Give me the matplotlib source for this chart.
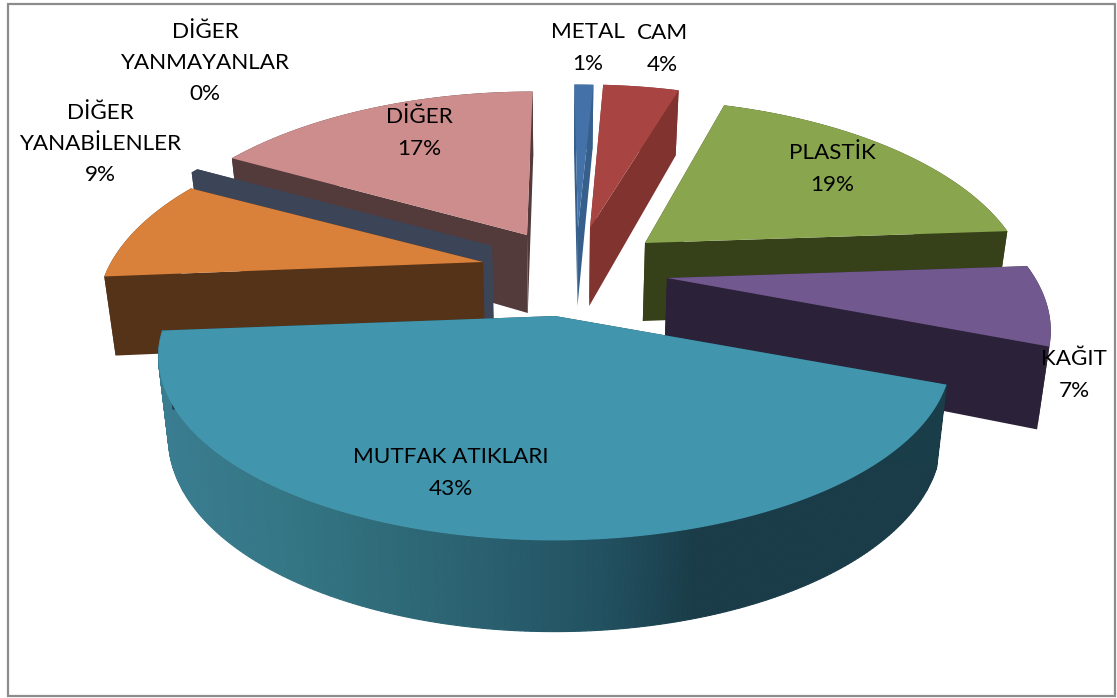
import numpy as np
import matplotlib
matplotlib.use("Agg")
import matplotlib.pyplot as plt
from matplotlib.patches import Rectangle

# data
labels = ["METAL", "CAM", "PLASTİK", "KAĞIT", "MUTFAK ATIKLARI",
          "DİĞER\nYANABİLENLER", "DİĞER\nYANMAYANLAR", "DİĞER"]
values = [1, 4, 19, 7, 43, 9, 0.4, 17]

# styles
top_colors = ["#4472a8", "#a84442", "#89a54e", "#71588f", "#4196ae", "#d9803a", "#3c4558", "#cd8d8c"]
side_colors = ["#365f8c", "#813330", "#374119", "#2b2138", "#1a3e49", "#553318", "#3c4558", "#533a3b"]

# where each exploded slice has its tip, in pixels
tips_x = [578, 590, 645, 667, 555, 483, 492, 527]
tips_y = [228, 228, 243, 278, 316, 262, 246, 235]
# slices nearer the viewer come out a bit wider
widen = [1, 1, 1, 0.995, 1.045, 1.005, 1.03, 1.02]

label_x = [588, 662, 832, 1074, 451, 100, 205, 419]
label_y = [48, 49, 169, 375, 473, 144, 63, 133]

start = 0.0
rx, ry, persp = 370, 175, 0.22
depth = 78
vanish_x = 558


def project(i, th):
    # th in degrees, clockwise from the back of the pie
    u = np.sin(np.radians(th))
    v = np.cos(np.radians(th))
    f = 1 / (1 + persp * v)
    x = vanish_x + (tips_x[i] + rx * widen[i] * u - vanish_x) * f
    return x, tips_y[i] - ry * v * f, depth * (1 - 0.17 * v)


def lower(x):
    # walls lean in towards the middle going down
    return vanish_x + (x - vanish_x) * 0.975


def ramp(x):
    # shading of the front wall of the big slice
    xs = [160, 290, 450, 600, 700, 950]
    r = np.interp(x, xs, [58, 52, 44, 34, 26, 26])
    g = np.interp(x, xs, [125, 118, 100, 82, 60, 60])
    b = np.interp(x, xs, [145, 132, 115, 98, 72, 72])
    return (r / 255, g / 255, b / 255)


fig = plt.figure(figsize=(11.17, 6.98), dpi=100)
ax = fig.add_axes([0, 0, 1, 1])
ax.set_xlim(0, 1117)
ax.set_ylim(698, 0)
ax.axis("off")

ax.add_patch(Rectangle((8, 4), 1107, 692, fc="white", ec="#8c8c8c", lw=1.6))

angles = np.cumsum([0] + values) / sum(values) * 360 + start
draw_order = [0, 1, 7, 6, 5, 2, 3, 4]

for i in draw_order:
    th = np.linspace(angles[i], angles[i + 1], 240)
    x, y, h = project(i, th)
    tx, ty = tips_x[i], tips_y[i]
    # outer wall
    if i == 4:
        for k in range(len(th) - 1):
            ax.fill([x[k], x[k + 1], lower(x[k + 1]), lower(x[k])],
                    [y[k], y[k + 1], y[k + 1] + h[k + 1], y[k] + h[k]],
                    color=ramp(x[k]), lw=0.8)
    else:
        ax.fill(np.r_[x, lower(x)[::-1]], np.r_[y, (y + h)[::-1]], color=side_colors[i], lw=0)
    # the two cut walls
    for k in [0, -1]:
        ax.fill([tx, x[k], lower(x[k]), lower(tx)],
                [ty, y[k], y[k] + h[k], ty + depth],
                color=side_colors[i], lw=0)
    # top face
    ax.fill(np.r_[tx, x], np.r_[ty, y], color=top_colors[i], lw=0)

for i in range(len(labels)):
    ax.text(label_x[i], label_y[i], labels[i] + "\n" + f"{round(values[i])}%",
            ha="center", va="center", family="Lato", fontsize=16.2,
            linespacing=1.69, color="black")

fig.savefig("out.png", dpi=100)
